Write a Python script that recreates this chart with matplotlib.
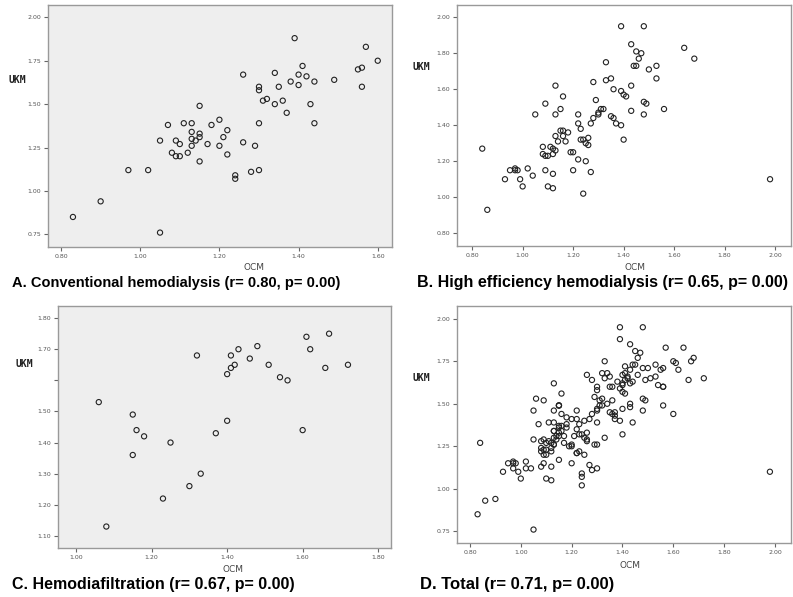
import numpy as np
import matplotlib
matplotlib.use("Agg")
import matplotlib.pyplot as plt

# A. Conventional hemodialysis
ocm_a = [0.83, 0.90, 0.97, 1.02, 1.05, 1.05, 1.07, 1.08, 1.09, 1.09, 1.10, 1.10,
         1.11, 1.12, 1.13, 1.13, 1.13, 1.13, 1.14, 1.15, 1.15, 1.15, 1.15, 1.17,
         1.18, 1.20, 1.20, 1.21, 1.22, 1.22, 1.24, 1.24, 1.26, 1.26, 1.28, 1.29,
         1.30, 1.30, 1.30, 1.30, 1.31, 1.32, 1.34, 1.34, 1.35, 1.36, 1.37, 1.38,
         1.39, 1.40, 1.40, 1.41, 1.42, 1.43, 1.44, 1.44, 1.49, 1.55, 1.56, 1.56,
         1.57, 1.60]
ukm_a = [0.85, 0.94, 1.12, 1.12, 0.76, 1.29, 1.38, 1.22, 1.29, 1.20, 1.27, 1.20,
         1.39, 1.22, 1.39, 1.34, 1.30, 1.26, 1.29, 1.31, 1.33, 1.49, 1.17, 1.27,
         1.38, 1.41, 1.26, 1.31, 1.35, 1.21, 1.09, 1.07, 1.28, 1.67, 1.11, 1.26,
         1.60, 1.58, 1.39, 1.12, 1.52, 1.53, 1.68, 1.50, 1.60, 1.52, 1.45, 1.63,
         1.88, 1.67, 1.61, 1.72, 1.66, 1.50, 1.63, 1.39, 1.64, 1.70, 1.71, 1.60,
         1.83, 1.75]

# B. High efficiency hemodialysis
ocm_b = [0.84, 0.86, 0.93, 0.95, 0.97, 0.97, 0.98, 0.99, 1.00, 1.02, 1.04, 1.05,
         1.08, 1.08, 1.09, 1.09, 1.09, 1.10, 1.10, 1.11, 1.12, 1.12, 1.12, 1.12,
         1.13, 1.13, 1.13, 1.13, 1.14, 1.15, 1.15, 1.16, 1.16, 1.16, 1.17, 1.18,
         1.19, 1.20, 1.20, 1.22, 1.22, 1.22, 1.23, 1.23, 1.24, 1.24, 1.25, 1.25,
         1.26, 1.26, 1.27, 1.27, 1.28, 1.28, 1.29, 1.30, 1.30, 1.31, 1.32, 1.33,
         1.33, 1.35, 1.35, 1.36, 1.36, 1.37, 1.39, 1.39, 1.39, 1.40, 1.40, 1.41,
         1.43, 1.43, 1.43, 1.44, 1.45, 1.45, 1.46, 1.47, 1.48, 1.48, 1.48, 1.49,
         1.50, 1.53, 1.53, 1.56, 1.64, 1.68, 1.98]
ukm_b = [1.27, 0.93, 1.10, 1.15, 1.16, 1.15, 1.15, 1.10, 1.06, 1.16, 1.12, 1.46,
         1.28, 1.24, 1.52, 1.15, 1.23, 1.23, 1.06, 1.28, 1.27, 1.24, 1.13, 1.05,
         1.62, 1.46, 1.34, 1.26, 1.31, 1.49, 1.37, 1.56, 1.37, 1.34, 1.31, 1.36,
         1.25, 1.25, 1.15, 1.46, 1.41, 1.21, 1.38, 1.32, 1.32, 1.02, 1.30, 1.20,
         1.33, 1.29, 1.41, 1.14, 1.44, 1.64, 1.54, 1.46, 1.47, 1.49, 1.49, 1.65,
         1.75, 1.66, 1.45, 1.44, 1.60, 1.41, 1.95, 1.59, 1.40, 1.57, 1.32, 1.56,
         1.85, 1.62, 1.48, 1.73, 1.73, 1.81, 1.77, 1.80, 1.95, 1.53, 1.46, 1.52,
         1.71, 1.73, 1.66, 1.49, 1.83, 1.77, 1.10]

# C. Hemodiafiltration
ocm_c = [1.06, 1.08, 1.15, 1.15, 1.16, 1.18, 1.23, 1.25, 1.30, 1.32, 1.33, 1.37,
         1.40, 1.40, 1.41, 1.41, 1.42, 1.43, 1.46, 1.48, 1.51, 1.54, 1.56, 1.60,
         1.61, 1.62, 1.66, 1.67, 1.72]
ukm_c = [1.53, 1.13, 1.49, 1.36, 1.44, 1.42, 1.22, 1.40, 1.26, 1.68, 1.30, 1.43,
         1.62, 1.47, 1.68, 1.64, 1.65, 1.70, 1.67, 1.71, 1.65, 1.61, 1.60, 1.44,
         1.74, 1.70, 1.64, 1.75, 1.65]

# D. Total = all three groups
ocm_d = ocm_a + ocm_b + ocm_c
ukm_d = ukm_a + ukm_b + ukm_c

captions = ["A. Conventional hemodialysis (r= 0.80, p= 0.00)",
            "B. High efficiency hemodialysis (r= 0.65, p= 0.00)",
            "C. Hemodiafiltration (r= 0.67, p= 0.00)",
            "D. Total (r= 0.71, p= 0.00)"]

W, H = 793, 597
fig = plt.figure(figsize=(W / 100, H / 100), dpi=100)
fig.patch.set_facecolor("white")


def box(l, t, r, b):
    return [l / W, 1 - b / H, (r - l) / W, (b - t) / H]


panels = [
    dict(x=ocm_a, y=ukm_a, rect=box(48, 5, 392, 247), xlim=(0.767, 1.636), ylim=(0.677, 2.071),
         xt=[0.8, 1.0, 1.2, 1.4, 1.6], yt=[0.75, 1.0, 1.25, 1.5, 1.75, 2.0], ytl=None,
         bg="#eeeeee", ukm=(17, 80), ocm=(254, 267), cap=(12, 283), cs=10.5),
    dict(x=ocm_b, y=ukm_b, rect=box(457, 5, 791, 246), xlim=(0.74, 2.063), ylim=(0.729, 2.068),
         xt=[0.8, 1.0, 1.2, 1.4, 1.6, 1.8, 2.0], yt=[0.8, 1.0, 1.2, 1.4, 1.6, 1.8, 2.0], ytl=None,
         bg="white", ukm=(421, 67), ocm=(635, 267), cap=(417, 283), cs=11.5),
    dict(x=ocm_c, y=ukm_c, rect=box(58, 306, 391, 548), xlim=(0.952, 1.834), ylim=(1.061, 1.839),
         xt=[1.0, 1.2, 1.4, 1.6, 1.8], yt=[1.1, 1.2, 1.3, 1.4, 1.5, 1.6, 1.7, 1.8],
         ytl=["1.10", "1.20", "1.30", "1.40", "1.50", "", "1.70", "1.80"],
         bg="#eeeeee", ukm=(24, 364), ocm=(233, 570), cap=(12, 584), cs=11.5),
    dict(x=ocm_d, y=ukm_d, rect=box(457, 306, 791, 543), xlim=(0.749, 2.063), ylim=(0.681, 2.075),
         xt=[0.8, 1.0, 1.2, 1.4, 1.6, 1.8, 2.0], yt=[0.75, 1.0, 1.25, 1.5, 1.75, 2.0], ytl=None,
         bg="white", ukm=(421, 378), ocm=(630, 565), cap=(420, 584), cs=12),
]

for p, cap in zip(panels, captions):
    ax = fig.add_axes(p["rect"])
    ax.set_facecolor(p["bg"])
    ax.scatter(p["x"], p["y"], s=14, facecolors="none", edgecolors="#222222", linewidths=0.8)
    ax.set_xlim(p["xlim"])
    ax.set_ylim(p["ylim"])
    ax.set_xticks(p["xt"])
    ax.set_xticklabels(["%.2f" % v for v in p["xt"]])
    ax.set_yticks(p["yt"])
    if p["ytl"] is None:
        ax.set_yticklabels(["%.2f" % v for v in p["yt"]])
    else:
        ax.set_yticklabels(p["ytl"])
    ax.tick_params(labelsize=4.5, labelcolor="#555555", color="#666666", length=3, width=0.8, pad=2)
    for s in ax.spines.values():
        s.set_color("#999999")
        s.set_linewidth(1.0)

    fig.text(p["ukm"][0] / W, 1 - p["ukm"][1] / H, "UKM", ha="center", va="center",
             fontsize=7, fontweight="bold", family="DejaVu Sans Mono", color="#222222")
    fig.text(p["ocm"][0] / W, 1 - p["ocm"][1] / H, "OCM", ha="center", va="center",
             fontsize=6.5, color="#444444")
    fig.text(p["cap"][0] / W, 1 - p["cap"][1] / H, cap, ha="left", va="center",
             fontsize=p["cs"], fontweight="bold", family="Liberation Sans", color="black")

fig.savefig("out.png", dpi=100)
